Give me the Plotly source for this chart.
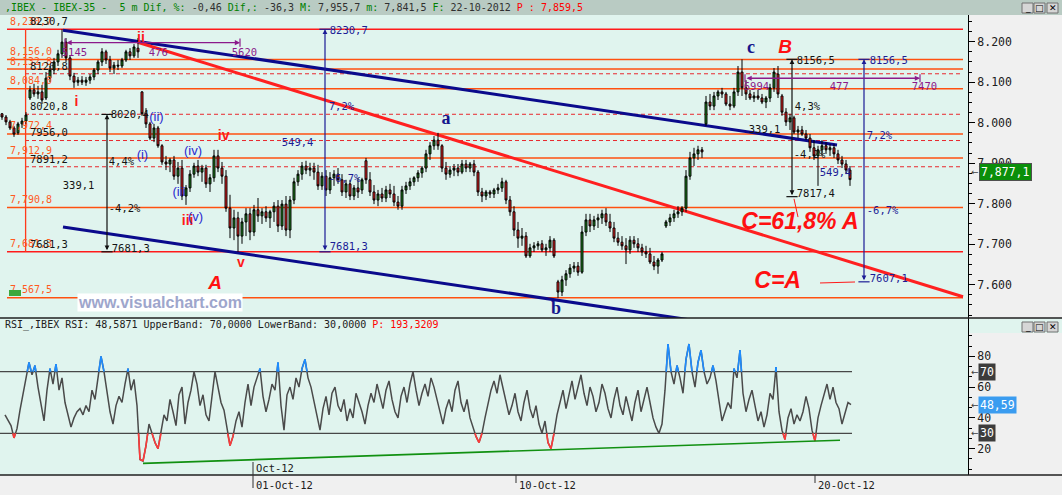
import numpy as np
import plotly.graph_objects as go

# ---------------- price bars (IBEX-35, 5 m) ----------------
bar_open = [
    8022, 8014, 8002, 7987, 7975, 7997, 8004, 8061, 8081, 8071,
    8076, 8061, 8110, 8130, 8150, 8170, 8199, 8160, 8115, 8100,
    8105, 8100, 8105, 8113, 8130, 8150, 8175, 8155, 8135, 8142,
    8140, 8155, 8175, 8165, 8184, 8076, 8022, 7997, 7962, 7987,
    7943, 7903, 7898, 7908, 7868, 7888, 7819, 7839, 7873, 7893,
    7878, 7888, 7849, 7864, 7918, 7888, 7868, 7789, 7740, 7765,
    7720, 7755, 7775, 7730, 7785, 7770, 7780, 7765, 7780, 7794,
    7745, 7799, 7735, 7809, 7854, 7873, 7893, 7883, 7888, 7878,
    7844, 7868, 7834, 7864, 7873, 7859, 7829, 7849, 7819, 7839,
    7834, 7906, 7859, 7829, 7809, 7824, 7814, 7834, 7824, 7804,
    7794, 7834, 7844, 7854, 7864, 7876, 7888, 7923, 7943, 7957,
    7943, 7888, 7873, 7883, 7888, 7878, 7898, 7888, 7898, 7878,
    7829, 7819, 7829, 7824, 7834, 7839, 7854, 7809, 7780, 7735,
    7715, 7720, 7671, 7691, 7696, 7701, 7686, 7691, 7710, 7607,
    7582, 7612, 7627, 7641, 7646, 7631, 7730, 7760, 7745, 7760,
    7765, 7775, 7755, 7740, 7715, 7705, 7696, 7686, 7710, 7701,
    7691, 7681, 7676, 7656, 7646, 7661, 7745, 7755, 7765, 7775,
    7780, 7789, 7868, 7913, 7923, 7933, 7997, 8051, 8041, 8066,
    8076, 8071, 8046, 8041, 8076, 8125, 8086, 8071, 8061, 8066,
    8061, 8051, 8061, 8086, 8120, 8066, 8026, 8002, 8012, 7977,
    7982, 7972, 7962, 7938, 7918, 7933, 7943, 7933, 7938, 7923,
    7908, 7898, 7883]
bar_high = [
    8024, 8019, 8007, 7992, 8002, 8012, 8026, 8091, 8096, 8091,
    8093, 8125, 8140, 8160, 8180, 8230.7, 8209, 8167, 8123, 8113,
    8115, 8113, 8120, 8135, 8155, 8184, 8180, 8165, 8150, 8155,
    8160, 8180, 8184, 8194, 8209, 8078, 8036, 8002, 7997, 7992,
    7947, 7918, 7913, 7918, 7903, 7908, 7846, 7883, 7901, 7908,
    7896, 7896, 7873, 7933, 7933, 7903, 7883, 7822, 7785, 7780,
    7765, 7789, 7789, 7797, 7814, 7789, 7794, 7785, 7804, 7809,
    7809, 7819, 7819, 7864, 7883, 7903, 7906, 7901, 7901, 7896,
    7878, 7883, 7878, 7883, 7888, 7873, 7859, 7859, 7846, 7864,
    7864, 7913, 7878, 7846, 7834, 7839, 7844, 7849, 7844, 7819,
    7844, 7854, 7864, 7868, 7883, 7893, 7933, 7952, 7967, 7975,
    7947, 7903, 7893, 7898, 7898, 7908, 7908, 7903, 7908, 7883,
    7839, 7834, 7834, 7839, 7849, 7864, 7859, 7819, 7794, 7755,
    7740, 7730, 7701, 7705, 7708, 7710, 7701, 7720, 7715, 7612,
    7622, 7636, 7651, 7656, 7656, 7745, 7775, 7775, 7770, 7775,
    7785, 7789, 7775, 7755, 7730, 7720, 7715, 7720, 7720, 7715,
    7701, 7696, 7691, 7671, 7666, 7681, 7760, 7775, 7785, 7794,
    7794, 7883, 7928, 7938, 7943, 7940, 8066, 8071, 8076, 8081,
    8086, 8076, 8066, 8086, 8140, 8156.5, 8105, 8081, 8076, 8081,
    8071, 8066, 8096, 8135, 8140, 8071, 8036, 8022, 8017, 7992,
    7992, 7982, 7972, 7957, 7943, 7957, 7952, 7947, 7947, 7933,
    7918, 7908, 7893]
bar_low = [
    8007, 7994, 7982, 7965, 7970, 7987, 7997, 8056, 8064, 8059,
    8046, 8056, 8100, 8120, 8140, 8160, 8150, 8105, 8086, 8091,
    8093, 8091, 8096, 8105, 8120, 8140, 8145, 8125, 8120, 8130,
    8135, 8150, 8155, 8160, 8160, 8017, 7987, 7957, 7952, 7938,
    7896, 7883, 7878, 7859, 7849, 7809, 7797, 7829, 7864, 7868,
    7854, 7839, 7829, 7854, 7878, 7849, 7780, 7715, 7710, 7681.3,
    7701, 7720, 7710, 7720, 7755, 7750, 7755, 7740, 7755, 7730,
    7735, 7720, 7715, 7799, 7844, 7859, 7873, 7868, 7859, 7834,
    7834, 7819, 7824, 7844, 7849, 7819, 7814, 7809, 7809, 7814,
    7824, 7849, 7819, 7799, 7794, 7804, 7804, 7814, 7794, 7785,
    7785, 7824, 7834, 7844, 7854, 7864, 7878, 7908, 7933, 7933,
    7878, 7859, 7864, 7868, 7868, 7873, 7878, 7878, 7868, 7819,
    7804, 7809, 7814, 7814, 7824, 7829, 7799, 7770, 7720, 7691,
    7696, 7666, 7666, 7681, 7686, 7681, 7671, 7681, 7666, 7567.5,
    7572, 7597, 7617, 7631, 7622, 7627, 7720, 7730, 7735, 7740,
    7750, 7745, 7730, 7705, 7696, 7686, 7651, 7676, 7691, 7681,
    7671, 7666, 7651, 7636, 7627, 7656, 7740, 7745, 7755, 7765,
    7770, 7780, 7859, 7893, 7908, 7913, 7992, 8031, 8031, 8056,
    8061, 8041, 8031, 8036, 8066, 8066, 8056, 8056, 8051, 8056,
    8046, 8036, 8051, 8076, 8061, 8017, 7992, 7982, 7972, 7962,
    7967, 7957, 7928, 7908, 7844, 7918, 7923, 7918, 7913, 7898,
    7888, 7873, 7844]
bar_close = [
    8014, 8002, 7987, 7972, 7997, 8004, 8019, 8081, 8071, 8076,
    8056, 8110, 8130, 8150, 8170, 8199, 8160, 8115, 8100, 8105,
    8100, 8105, 8113, 8130, 8150, 8175, 8155, 8135, 8142, 8140,
    8155, 8175, 8165, 8187, 8175, 8022, 7997, 7962, 7987, 7943,
    7903, 7898, 7908, 7868, 7888, 7819, 7839, 7873, 7893, 7878,
    7888, 7849, 7864, 7918, 7888, 7868, 7789, 7740, 7765, 7720,
    7755, 7775, 7730, 7785, 7770, 7780, 7765, 7780, 7794, 7745,
    7799, 7735, 7809, 7854, 7873, 7893, 7883, 7888, 7878, 7844,
    7868, 7834, 7864, 7873, 7859, 7829, 7849, 7819, 7839, 7829,
    7859, 7859, 7829, 7809, 7824, 7814, 7834, 7824, 7804, 7794,
    7834, 7844, 7854, 7864, 7876, 7888, 7923, 7943, 7957, 7943,
    7888, 7873, 7883, 7888, 7878, 7898, 7888, 7898, 7878, 7829,
    7819, 7829, 7824, 7834, 7839, 7854, 7809, 7780, 7735, 7715,
    7720, 7671, 7691, 7696, 7701, 7686, 7691, 7710, 7671, 7582,
    7612, 7627, 7641, 7646, 7631, 7730, 7760, 7745, 7760, 7765,
    7775, 7755, 7740, 7715, 7705, 7696, 7686, 7710, 7701, 7691,
    7681, 7676, 7656, 7646, 7661, 7676, 7755, 7765, 7775, 7780,
    7789, 7868, 7913, 7923, 7933, 7928, 8051, 8041, 8066, 8076,
    8071, 8046, 8041, 8076, 8125, 8086, 8071, 8061, 8066, 8061,
    8051, 8061, 8086, 8125, 8071, 8026, 8002, 8012, 7977, 7982,
    7972, 7962, 7938, 7918, 7933, 7943, 7933, 7938, 7923, 7908,
    7898, 7883, 7859.5]

# ---------------- RSI ----------------
rsi_values = [
    42, 38, 35, 27, 33, 45, 55, 66, 76, 68,
    74, 60, 50, 38, 58, 72, 62, 75, 58, 66,
    50, 42, 34, 40, 44, 46, 42, 48, 44, 58,
    52, 66, 80, 70, 56, 44, 36, 48, 54, 50,
    62, 72, 58, 65, 48, 13, 12, 22, 36, 30,
    24, 20, 30, 42, 38, 52, 44, 35, 55, 60,
    36, 50, 58, 70, 62, 48, 55, 42, 38, 55,
    70, 60, 50, 45, 32, 22, 28, 38, 44, 34,
    50, 62, 48, 60, 66, 72, 54, 44, 52, 62,
    58, 76, 48, 32, 55, 60, 52, 66, 60, 72,
    78, 66, 60, 50, 40, 32, 46, 54, 42, 56,
    60, 48, 44, 52, 38, 46, 40, 56, 50,
    44, 36, 48, 56, 50, 62, 54, 46, 58, 64,
    52, 44, 40, 54, 60, 50, 62, 70, 58, 48,
    56, 62, 54, 66, 60, 52, 44, 36, 46, 52,
    44, 58, 64, 50, 44, 52, 40, 34, 28, 24,
    30, 40, 50, 58, 64, 56, 68, 60, 50, 42,
    48, 56, 44, 38, 50, 58, 46, 40, 48, 36,
    30, 38, 24, 20, 30, 42, 50, 58, 46, 56,
    64, 52, 60, 68, 56, 48, 60, 54, 44, 50,
    62, 56, 46, 40, 52, 60, 48, 42, 54, 46,
    38, 50, 58, 44, 52, 60, 50, 40, 34, 30,
    36, 58, 88, 70, 62, 74, 66, 56, 78, 88,
    70, 60, 76,
    84, 70, 62, 66, 74, 64, 50, 38, 44, 50,
    46, 72, 66, 84, 56, 44, 52, 58, 48, 38,
    44, 34, 42, 56, 52, 73, 44, 32, 26, 40,
    46, 36, 42, 38, 44, 54, 46, 32, 25, 40,
    48, 56, 62, 52, 60, 50, 46, 36, 44, 50,
    48.6]
rsi_upper, rsi_lower = 70, 30
rsi_last = 48.59
rsi_support_bar = [35.25, 209.5]
rsi_support_val = [10.5, 25.5]

# ---------------- levels & drawings ----------------
orange_levels = [8230.7, 8156.0, 8132.8, 8084.0, 7972.4, 7912.9, 7790.8, 7681.3, 7567.5]
orange_labels = ["8,230,7", "8,156,0", "8,132,8", "8,084,0", "7,972,4",
                 "7,912,9", "7,790,8", "7,681,3", "7,567,5"]
fib_levels = [8230.7, 8120.8, 8020.8, 7956.0, 7891.2, 7681.3]
fib_labels = ["8230,7", "8120,8", "8020,8", "7956,0", "7891,2", "7681,3"]
dashed_levels = [8120.8, 8020.8, 7956.0, 7891.2]

upper_channel = ([15.25, 208.75], [8228, 7945])
lower_channel = ([15.25, 171.5], [7742.5, 7514])
red_trend = ([33.9, 240.25], [8198.5, 7570.4])

arrow_bar = [26.25, 80.75, 197.5, 215.5]
arrow_top = [8020.4, 8230.7, 8156.5, 8156.5]
arrow_bottom = [7681.3, 7681.3, 7817.4, 7607.1]
arrow_color = ["#101010", "#1c1c96", "#101010", "#1c1c96"]

h_arrow_start = [15.75, 185.75]
h_arrow_end = [59.5, 229.5]
h_arrow_price = [8197.6, 8109.7]

black_text = ["8020,4", "4,4%", "339,1", "-4,2%", "7681,3",
              "8156,5", "4,3%", "339,1", "-4,2%", "7817,4"]
black_bar = [28, 27.5, 16, 27.5, 28.25, 199.5, 199, 187.5, 198.75, 199.5]
black_price = [8018, 7903, 7844, 7787, 7688, 8152, 8039, 7980, 7920, 7824]

blue_text = ["8230,7", "7,2%", "549,4", "-6,7%", "7681,3",
             "8156,5", "7,2%", "549,4", "-6,7%", "7607,1"]
blue_bar = [82.75, 82.5, 70.75, 82.5, 82.75, 217.75, 217, 205.25, 217, 217.75]
blue_price = [8226, 8039, 7950, 7859, 7691, 8152, 7967, 7876, 7782, 7614]

purple_text = ["5145", "476", "5620", "6994", "477", "7470"]
purple_bar = [15.75, 37.5, 58.25, 186.25, 207.75, 228.25]
purple_price = [8172, 8172, 8172, 8086, 8086, 8086]

red_wave_text = ["i", "ii", "iii", "iv", "v"]
red_wave_bar = [18.6, 34.75, 46.4, 55.4, 59.75]
red_wave_price = [8049, 8209, 7757, 7967, 7652]

sub_wave_text = ["(i)", "(ii)", "(iii", "(iv)", "(v)"]
sub_wave_bar = [35.1, 38.6, 44.25, 47.75, 48.4]
sub_wave_price = [7918, 8013, 7828, 7928, 7766]

abc_text = ["a", "b", "c"]
abc_bar = [111, 138.5, 187.25]
abc_price = [8009, 7540, 8182]

big_text = ["A", "B"]
big_bar = [53.25, 195.75]
big_price = [7602, 8183]

target_text = ["C=61,8% A", "C=A"]
target_bar = [199.5, 193.9]
target_price = [7752, 7607]

connector_lines = [([198, 199], [7812, 7767]), ([204.5, 213.25], [7604.3, 7606.7])]

price_ticks = [7600, 7700, 7800, 7900, 8000, 8100, 8200]
price_tick_text = ["7.600", "7.700", "7.800", "7.900", "8.000", "8.100", "8.200"]
last_price = 7877.1
last_price_text = "7,877,1"
rsi_ticks = [20, 40, 60, 80]

date_labels = ["01-Oct-12", "10-Oct-12", "20-Oct-12"]
date_bars = [62.75, 128.5, 203.25]

# ---------------- geometry helpers (page pixels -> paper) ----------------
W, H = 1062, 495
ML, MR, MT, MB = 0, 94, 15, 20
PW, PH = W - ML - MR, H - MT - MB


def px_x(x):
    return x / PW


def px_y(y):
    return (H - MB - y) / PH


SPLIT = px_y(318)
MONO = "DejaVu Sans Mono"
SANS = "Liberation Sans"
SERIF = "Liberation Serif"
ORANGE = "#ff5010"
RED_LINE = "#ff1a1a"
MINT = "#e0f4ee"

fig = go.Figure()
shapes = []
annotations = []

# horizontal levels
for lvl in orange_levels:
    col = RED_LINE if lvl in (8230.7, 7681.3) else ORANGE
    shapes.append(dict(type="line", xref="x", yref="y", x0=1.25, x1=240.25, y0=lvl, y1=lvl,
                       line=dict(color=col, width=1.5), layer="below"))
for lvl in dashed_levels:
    shapes.append(dict(type="line", xref="x", yref="y", x0=5.75, x1=240.25, y0=lvl, y1=lvl,
                       line=dict(color="#e8282d", width=1, dash="4px,3px"), layer="below"))
shapes.append(dict(type="line", xref="x", yref="y", x0=5.9, x1=5.9, y0=fib_levels[-1], y1=fib_levels[0],
                   line=dict(color="#ff3a1a", width=1.3), layer="below"))

# channels & trend
for (xs, ys), col in [(upper_channel, "#0a0a8c"), (lower_channel, "#0a0a8c"), (red_trend, "#ff2020")]:
    shapes.append(dict(type="line", xref="x", yref="y", x0=xs[0], x1=xs[1], y0=ys[0], y1=ys[1],
                       line=dict(color=col, width=3), layer="below"))
for xs, ys in connector_lines:
    shapes.append(dict(type="line", xref="x", yref="y", x0=xs[0], x1=xs[1], y0=ys[0], y1=ys[1],
                       line=dict(color="#ff1a1a", width=1)))

# vertical measuring arrows
for b, t, bt, c in zip(arrow_bar, arrow_top, arrow_bottom, arrow_color):
    annotations.append(dict(x=b, y=t, ax=b, ay=bt, xref="x", yref="y", axref="x", ayref="y",
                            text="", showarrow=True, arrowhead=2, arrowside="end+start",
                            arrowsize=0.8, arrowwidth=1.2, arrowcolor=c))
    for v in (t, bt):
        shapes.append(dict(type="line", xref="x", yref="y", x0=b - 1.4, x1=b + 1.4, y0=v, y1=v,
                           line=dict(color=c, width=1.2)))
# horizontal purple arrows
for s, e, p in zip(h_arrow_start, h_arrow_end, h_arrow_price):
    annotations.append(dict(x=e, y=p, ax=s, ay=p, xref="x", yref="y", axref="x", ayref="y",
                            text="", showarrow=True, arrowhead=2, arrowside="end+start",
                            arrowsize=0.8, arrowwidth=1.3, arrowcolor="#8b1a8b"))
    for v in (s, e):
        shapes.append(dict(type="line", xref="x", yref="y", x0=v, x1=v, y0=p - 10, y1=p + 10,
                           line=dict(color="#8b1a8b", width=1.2)))

# RSI bands and support
for lvl in (rsi_upper, rsi_lower):
    shapes.append(dict(type="line", xref="x", yref="y2", x0=-0.75, x1=212.5, y0=lvl, y1=lvl,
                       line=dict(color="#474747", width=1.2), layer="below"))
shapes.append(dict(type="line", xref="x", yref="y2", x0=rsi_support_bar[0], x1=rsi_support_bar[1],
                   y0=rsi_support_val[0], y1=rsi_support_val[1], line=dict(color="#119011", width=1.6)))


# ---------- text labels drawn under candles ----------
def text_trace(xs, ys, texts, color, size, family=MONO, pos="middle right", yaxis="y"):
    return go.Scatter(x=xs, y=ys, text=texts, mode="text", textposition=pos,
                      textfont=dict(family=family, size=size, color=color),
                      hoverinfo="skip", showlegend=False, yaxis=yaxis)


fig.add_trace(text_trace([2.0] * len(orange_levels), [v + 17 for v in orange_levels],
                         orange_labels, "#ff5a1e", 10))
fig.add_trace(text_trace([7.0] * len(fib_levels), [v + 17 for v in fib_levels],
                         fib_labels, "#141414", 10.5))
fig.add_trace(text_trace([b - 0.8 for b in black_bar], black_price, black_text, "#141414", 10.5))
fig.add_trace(text_trace([b - 0.8 for b in blue_bar], blue_price, blue_text, "#1c1c96", 10.5))
fig.add_trace(text_trace([b - 0.8 for b in purple_bar], purple_price, purple_text, "#8b1a8b", 10.5))

# ---------- candles ----------
bar_idx = list(range(len(bar_close)))
fig.add_trace(go.Candlestick(
    x=bar_idx, open=bar_open, high=bar_high, low=bar_low, close=bar_close,
    increasing=dict(fillcolor="#1e8c1e", line=dict(color="#000000", width=1)),
    decreasing=dict(fillcolor="#ff2424", line=dict(color="#000000", width=1)),
    whiskerwidth=0, hoverinfo="skip", showlegend=False))

# ---------- wave labels (on top) ----------
fig.add_trace(text_trace(red_wave_bar, red_wave_price, ["<b>%s</b>" % t for t in red_wave_text],
                         "#ff1a1a", 14, SANS, "middle center"))
fig.add_trace(text_trace(sub_wave_bar, sub_wave_price, sub_wave_text, "#2a2ad0", 13, SANS, "middle center"))
fig.add_trace(text_trace(abc_bar, abc_price, ["<b>%s</b>" % t for t in abc_text],
                         "#16168c", 18, SERIF, "middle center"))
fig.add_trace(text_trace(big_bar, big_price, ["<b><i>%s</i></b>" % t for t in big_text],
                         "#ff1010", 19, SANS, "middle center"))
fig.add_trace(text_trace(target_bar, target_price, ["<b><i>%s</i></b>" % t for t in target_text],
                         "#ff1010", 23, SANS, "middle center"))

# ---------- RSI ----------
rsi_idx = [0.75 + 0.75 * k for k in range(len(rsi_values))]
fig.add_trace(go.Scatter(x=rsi_idx, y=rsi_values, mode="lines", yaxis="y2",
                         line=dict(color="#4a4a4a", width=1.5), hoverinfo="skip", showlegend=False))


def clipped(level, above):
    xs, ys = [], []
    for k in range(len(rsi_values) - 1):
        x0, x1, y0, y1 = rsi_idx[k], rsi_idx[k + 1], rsi_values[k], rsi_values[k + 1]
        in0 = y0 > level if above else y0 < level
        in1 = y1 > level if above else y1 < level
        if not (in0 or in1):
            continue
        if in0 and in1:
            xs += [x0, x1, None]; ys += [y0, y1, None]
        else:
            xc = x0 + (level - y0) / (y1 - y0) * (x1 - x0)
            if in0:
                xs += [x0, xc, None]; ys += [y0, level, None]
            else:
                xs += [xc, x1, None]; ys += [level, y1, None]
    return xs, ys


bx, by = clipped(rsi_upper, True)
rx, ry = clipped(rsi_lower, False)
fig.add_trace(go.Scatter(x=bx, y=by, mode="lines", yaxis="y2", line=dict(color="#1e8cff", width=1.6),
                         hoverinfo="skip", showlegend=False))
fig.add_trace(go.Scatter(x=rx, y=ry, mode="lines", yaxis="y2", line=dict(color="#ff3a3a", width=1.6),
                         hoverinfo="skip", showlegend=False))

# ---------- chrome ----------
shapes.append(dict(type="rect", xref="paper", yref="paper", x0=0, x1=px_x(W), y0=1, y1=px_y(0),
                   fillcolor="#b9cbc3", line=dict(width=0), layer="below"))
shapes.append(dict(type="rect", xref="paper", yref="paper", x0=1, x1=px_x(W), y0=px_y(333), y1=SPLIT,
                   fillcolor=MINT, line=dict(width=0), layer="below"))
for yy in (318, 475):
    shapes.append(dict(type="line", xref="paper", yref="paper", x0=0, x1=px_x(W), y0=px_y(yy), y1=px_y(yy),
                       line=dict(color="#202020", width=1.5)))
shapes.append(dict(type="rect", xref="paper", yref="paper", x0=px_x(9), x1=px_x(21), y0=px_y(296), y1=px_y(290),
                   fillcolor="#3da83d", line=dict(width=0)))
# window buttons
for ytop in (3, 322):
    for x0, sym in zip((1022, 1034, 1047), ("_", "□", "✕")):
        shapes.append(dict(type="rect", xref="paper", yref="paper", x0=px_x(x0), x1=px_x(x0 + 11),
                           y0=px_y(ytop + 10), y1=px_y(ytop), fillcolor="#d6d6d6",
                           line=dict(color="#707070", width=1)))
        annotations.append(dict(x=px_x(x0 + 5.5), y=px_y(ytop + 5), xref="paper", yref="paper",
                                text=sym, showarrow=False, font=dict(family="DejaVu Sans", size=9, color="#000"),
                                xanchor="center", yanchor="middle"))

# date axis
for lab, b in zip(date_labels, date_bars):
    y_top = 462 if lab == date_labels[0] else 475
    y_bot = 488 if lab == date_labels[0] else 483
    shapes.append(dict(type="line", xref="x", yref="paper", x0=b, x1=b, y0=px_y(y_bot), y1=px_y(y_top),
                       line=dict(color="#303030", width=1)))
    annotations.append(dict(x=b + 0.2, y=px_y(485), xref="x", yref="paper", text=lab, showarrow=False,
                            xanchor="left", yanchor="middle", font=dict(family=MONO, size=10.5, color="#202020")))
annotations.append(dict(x=date_bars[0] + 0.2, y=px_y(467.5), xref="x", yref="paper", text="Oct-12",
                        showarrow=False, xanchor="left", yanchor="middle",
                        font=dict(family=MONO, size=10.5, color="#202020")))

# titles (non-breaking spaces keep the monospaced spacing)
g, d = "#008000", "#303030"


def nb(s):
    return s.replace(" ", "&nbsp;")


title_parts = [(",IBEX - IBEX-35 -  5 m Dif, %:", g), (" -0,46 ", d), ("Dif,:", g), (" -36,3 ", d),
               ("M:", g), (" 7,955,7 ", d), ("m:", g), (" 7,841,5 ", d), ("F:", g),
               (" 22-10-2012 ", d), ("P : 7,859,5", "#ff0000")]
title = "".join('<span style="color:%s">%s</span>' % (c, nb(t)) for t, c in title_parts)
annotations.append(dict(x=px_x(3), y=px_y(7.5), xref="paper", yref="paper", text=title, showarrow=False,
                        xanchor="left", yanchor="middle", font=dict(family=MONO, size=10, color=d)))
rsi_parts = [("RSI_,IBEX RSI: 48,5871 UpperBand: 70,0000 LowerBand: 30,0000 ", "#202020"),
             ("P: 193,3209", "#ff0000")]
rsi_title = "".join('<span style="color:%s">%s</span>' % (c, nb(t)) for t, c in rsi_parts)
annotations.append(dict(x=px_x(3), y=px_y(325), xref="paper", yref="paper", text=rsi_title, showarrow=False,
                        xanchor="left", yanchor="middle", font=dict(family=MONO, size=10, color="#202020")))

# watermark
annotations.append(dict(x=39.5, y=7556, xref="x", yref="y", text="<b>www.visualchart.com</b>", showarrow=False,
                        xanchor="center", yanchor="middle", bgcolor="#ffffff", borderpad=0,
                        font=dict(family=SANS, size=16, color="#9ea6cc")))

# value boxes on axes
annotations.append(dict(x=px_x(979), y=last_price, xref="paper", yref="y", text=last_price_text,
                        showarrow=False, xanchor="left", yanchor="middle", bgcolor="#0a8f0a",
                        bordercolor="#505050", borderwidth=1, borderpad=1,
                        font=dict(family=MONO, size=11.5, color="#ffffff")))
for val, txt, bg in [(rsi_upper, "70", "#3c3c3c"), (rsi_lower, "30", "#3c3c3c"), (rsi_last, "48,59", "#3a9cf0")]:
    annotations.append(dict(x=px_x(978), y=val, xref="paper", yref="y2", text=txt, showarrow=False,
                            xanchor="left", yanchor="middle", bgcolor=bg, borderpad=1,
                            font=dict(family=MONO, size=11.5, color="#ffffff")))
for val, yr in [(last_price, "y"), (rsi_upper, "y2"), (rsi_lower, "y2"), (rsi_last, "y2")]:
    annotations.append(dict(x=px_x(969), y=val, xref="paper", yref=yr, text="←", showarrow=False,
                            xanchor="left", yanchor="middle", font=dict(family="DejaVu Sans", size=9, color="#404040")))

fig.update_layout(
    width=W, height=H, autosize=False,
    margin=dict(l=ML, r=MR, t=MT, b=MB, pad=0),
    paper_bgcolor="#f0f0f0", plot_bgcolor=MINT,
    showlegend=False, hovermode=False,
    xaxis=dict(range=[-0.5, 241.5], showgrid=False, zeroline=False, showticklabels=False, ticks="",
               showline=False, rangeslider=dict(visible=False), fixedrange=True, anchor="y2"),
    yaxis=dict(domain=[SPLIT, 1], range=[7517.8, 8265.9], side="right", anchor="x",
               tickvals=price_ticks, ticktext=price_tick_text, ticks="outside", ticklen=6,
               tickcolor="#000", tickwidth=1, showline=True, linecolor="#000", linewidth=1,
               showgrid=False, zeroline=False, fixedrange=True,
               tickfont=dict(family=MONO, size=11.5, color="#202020"),
               minor=dict(dtick=25, tick0=0, ticks="outside", ticklen=3, tickcolor="#000", showgrid=False)),
    yaxis2=dict(domain=[0, SPLIT], range=[2.92, 104.87], side="right", anchor="x",
                tickvals=rsi_ticks, ticktext=[str(t) for t in rsi_ticks], ticks="outside", ticklen=6,
                tickcolor="#000", showline=True, linecolor="#000", linewidth=1,
                showgrid=False, zeroline=False, fixedrange=True,
                tickfont=dict(family=MONO, size=11.5, color="#202020"),
                minor=dict(tickvals=list(np.arange(20 / 3, 97, 20 / 3)), ticks="outside", ticklen=3,
                           tickcolor="#000", showgrid=False)),
    shapes=shapes, annotations=annotations,
)

fig.write_html("out.html", config={"displayModeBar": False},
               post_script="document.body.style.margin='0';document.body.style.overflow='hidden';")
